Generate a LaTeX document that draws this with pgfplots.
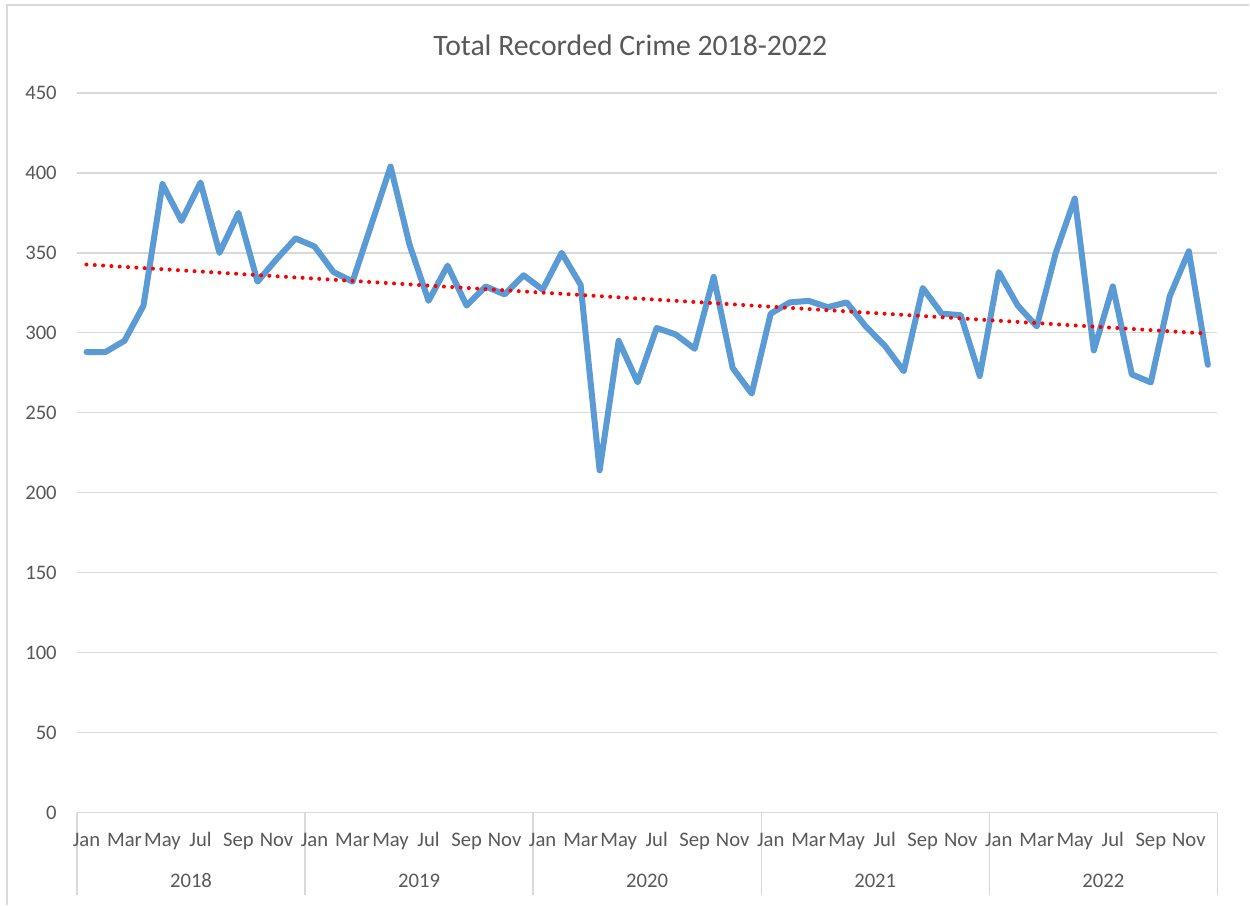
\documentclass[border=0pt]{standalone}
\usepackage{fontspec}
\setmainfont{Carlito}
\usepackage{pgfplots}
\pgfplotsset{compat=1.18}
\definecolor{txt}{HTML}{595959}
\definecolor{gridc}{HTML}{D9D9D9}
\definecolor{blueline}{HTML}{5B9BD5}
\begin{document}
\begin{tikzpicture}
\fill[white] (0,0) rectangle (937.5pt,678.75pt);
\draw[gridc, line width=1pt] (5.25pt,0) -- (5.25pt,675pt) -- (937.5pt,675pt);
\foreach \xx in {57.75,228.9,400.05,571.2,742.35,913.5}{
  \draw[gridc, line width=1pt] (\xx pt,69pt) -- (\xx pt,7.5pt);
}
\node[text=txt, font=\fontsize{22.3}{25}\selectfont] at (473pt,645pt) {Total Recorded Crime 2018-2022};
\begin{axis}[
  at={(57.75pt,69pt)}, anchor=south west,
  scale only axis, width=855.75pt, height=540pt,
  xmin=-0.5, xmax=59.5, ymin=0, ymax=450,
  ytick={0,50,...,450},
  xtick={0,2,...,58},
  xticklabels={Jan,Mar,May,Jul,Sep,Nov,Jan,Mar,May,Jul,Sep,Nov,Jan,Mar,May,Jul,Sep,Nov,Jan,Mar,May,Jul,Sep,Nov,Jan,Mar,May,Jul,Sep,Nov},
  /pgf/number format/assume math mode=true,
  axis line style={draw=none},
  major tick length=0pt,
  ymajorgrids, grid style={gridc, line width=1pt},
  tick label style={text=txt, font=\fontsize{15.5}{17}\selectfont},
  xticklabel style={anchor=base, yshift=-25.5pt, inner sep=0pt},
  yticklabel style={anchor=east, xshift=-15pt, inner sep=0pt},
  clip=false,
]
\addplot[blueline, line width=4.5pt, line join=round, line cap=round] coordinates {
(0,288)(1,288)(2,295)(3,317)(4,393)(5,370)(6,394)(7,350)(8,375)(9,332)(10,346)(11,359)
(12,354)(13,338)(14,332)(15,368)(16,404)(17,355)(18,320)(19,342)(20,317)(21,329)(22,324)(23,336)
(24,327)(25,350)(26,330)(27,214)(28,295)(29,269)(30,303)(31,299)(32,290)(33,335)(34,278)(35,262)
(36,312)(37,319)(38,320)(39,316)(40,319)(41,304)(42,292)(43,276)(44,328)(45,312)(46,311)(47,273)
(48,338)(49,317)(50,304)(51,350)(52,384)(53,289)(54,329)(55,274)(56,269)(57,323)(58,351)(59,280)
};
\addplot[red, line width=3pt, line cap=round, dash pattern=on 0pt off 6.25pt] coordinates {(0,342.7)(59,299.5)};
\draw[gridc, line width=1pt] (axis cs:-0.5,0) -- (axis cs:59.5,0);
\node[anchor=base, inner sep=0pt, text=txt, font=\fontsize{15.5}{17}\selectfont] at ([yshift=-56pt]axis cs:5.5,0) {2018};
\node[anchor=base, inner sep=0pt, text=txt, font=\fontsize{15.5}{17}\selectfont] at ([yshift=-56pt]axis cs:17.5,0) {2019};
\node[anchor=base, inner sep=0pt, text=txt, font=\fontsize{15.5}{17}\selectfont] at ([yshift=-56pt]axis cs:29.5,0) {2020};
\node[anchor=base, inner sep=0pt, text=txt, font=\fontsize{15.5}{17}\selectfont] at ([yshift=-56pt]axis cs:41.5,0) {2021};
\node[anchor=base, inner sep=0pt, text=txt, font=\fontsize{15.5}{17}\selectfont] at ([yshift=-56pt]axis cs:53.5,0) {2022};
\end{axis}
\end{tikzpicture}
\end{document}
